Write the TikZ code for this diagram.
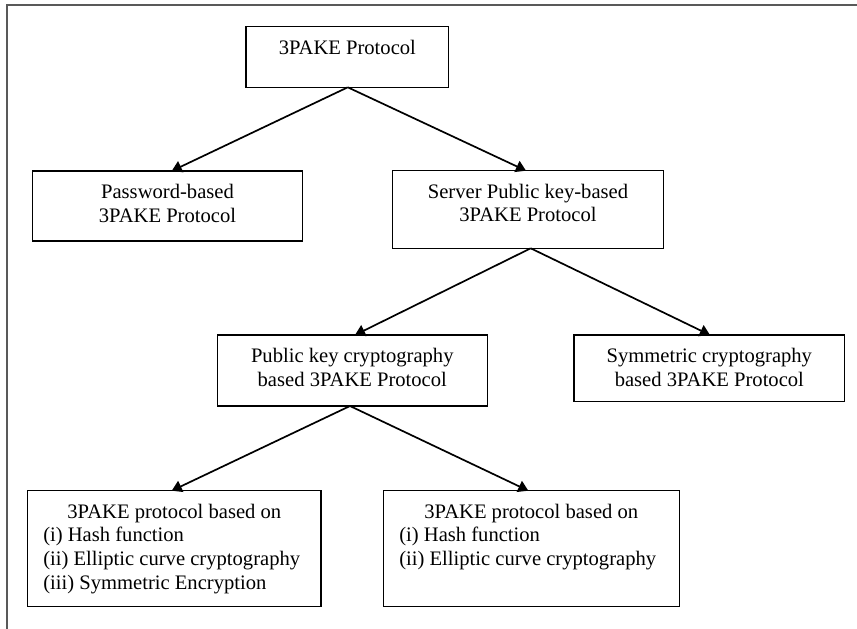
\documentclass[tikz,border=0pt]{standalone}
\usepackage{fontspec}
\setmainfont{Liberation Serif}
\usetikzlibrary{arrows.meta}
\newcommand{\mybx}[4]{\parbox[c][#2pt][t]{#1pt}{\vspace*{10.8pt}#3#4}}
\begin{document}
\begin{tikzpicture}[x=1pt,y=-1pt,
  font=\fontsize{20.6}{23.8}\selectfont,
  box/.style={draw, line width=1.2pt, inner sep=0pt, outer sep=0pt, anchor=north west},
  arr/.style={line width=1.7pt, -{Triangle[length=10pt,width=12pt]}}]
\useasboundingbox (0,0) rectangle (857,629);
\draw[black!65, line width=1.6pt] (857,4.7) -- (6.7,4.7) -- (6.7,629);

\node[box] (top) at (246,26.7) {\mybx{202.7}{60.6}{\centering}{\strut 3PAKE Protocol}};
\node[box] (pw) at (32.3,171) {\mybx{270.4}{70}{\centering}{\strut Password-based\\3PAKE Protocol}};
\node[box] (srv) at (392.7,170.7) {\mybx{270.6}{77.6}{\centering}{\strut Server Public key-based\\3PAKE Protocol}};
\node[box] (pk) at (217.3,335) {\mybx{270}{71}{\centering}{\strut Public key cryptography\\based 3PAKE Protocol}};
\node[box] (sym) at (574,335) {\mybx{270.7}{66.3}{\centering}{\strut Symmetric cryptography\\based 3PAKE Protocol}};
\node[box] (bl) at (27.7,490.7) {\mybx{293.3}{116}{}{{\centering\strut 3PAKE protocol based on\par}\raggedright\leftskip=15.6pt (i) Hash function\\(ii) Elliptic curve cryptography\\(iii) Symmetric Encryption}};
\node[box] (br) at (383.3,490.7) {\mybx{296}{116}{}{{\centering\strut 3PAKE protocol based on\par}\raggedright\leftskip=16pt (i) Hash function\\(ii) Elliptic curve cryptography}};

\draw[arr] ([xshift=0.4pt]top.south) -- ([xshift=4.2pt]pw.north);
\draw[arr] ([xshift=0.4pt]top.south) -- ([xshift=-2pt]srv.north);
\draw[arr] ([xshift=2.7pt]srv.south) -- ([xshift=2.7pt]pk.north);
\draw[arr] ([xshift=2.7pt]srv.south) -- ([xshift=0.6pt]sym.north);
\draw[arr] ([xshift=-2.3pt]pk.south) -- ([xshift=-2.6pt]bl.north);
\draw[arr] ([xshift=-2.3pt]pk.south) -- ([xshift=-3pt]br.north);
\end{tikzpicture}
\end{document}
